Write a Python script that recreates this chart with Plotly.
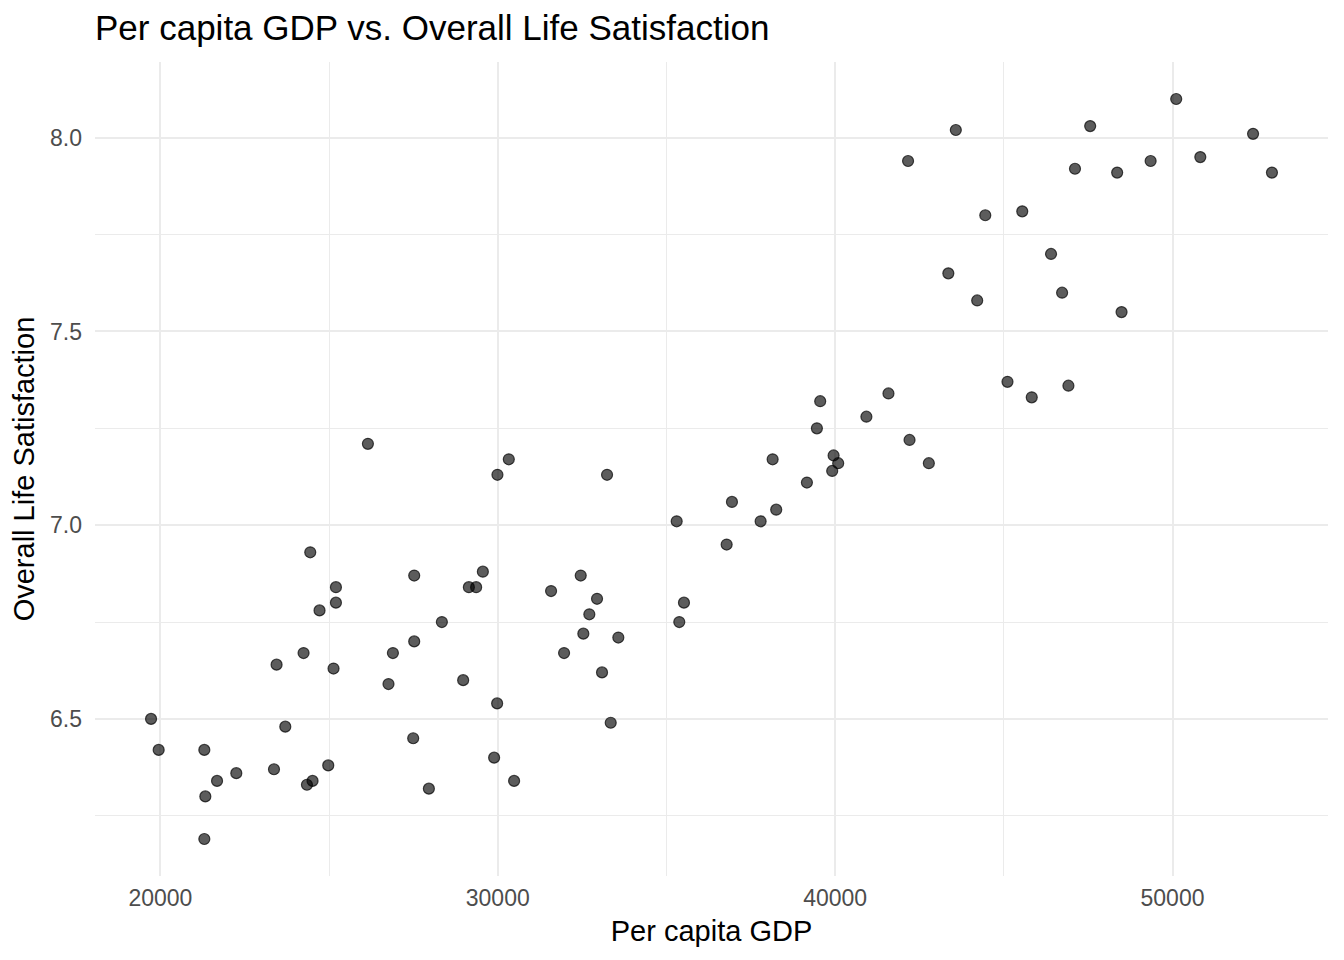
import plotly.graph_objects as go

# Per capita GDP (x) and overall life satisfaction (y)
gdp = [19724, 19950, 21303, 21333, 21680, 22251, 21303, 23368, 23445, 23703,
       24245, 24443, 24345, 24511, 24718, 24976, 25204, 25204, 25133, 26152,
       26762, 26893, 27524, 27524, 27494, 27959, 28344, 28975, 29144, 29360,
       29559, 29893, 29982, 29991, 30328, 30485, 31581, 31966, 32460, 32537,
       32715, 32943, 33091, 33240, 33349, 33574, 35304, 35381, 35520, 36785,
       36942, 37792, 38148, 38254, 39164, 39460, 39558, 39913, 39955, 40091,
       40927, 41581, 42206, 42162, 42778, 43356, 43578, 44211, 44451, 45109,
       45547, 45828, 46400, 46728, 46915, 47110, 47560, 48360, 48490, 49352,
       50110, 50824, 52388, 52948]
satisfaction = [6.50, 6.42, 6.42, 6.30, 6.34, 6.36, 6.19, 6.37, 6.64, 6.48,
                6.67, 6.93, 6.33, 6.34, 6.78, 6.38, 6.84, 6.80, 6.63, 7.21,
                6.59, 6.67, 6.87, 6.70, 6.45, 6.32, 6.75, 6.60, 6.84, 6.84,
                6.88, 6.40, 6.54, 7.13, 7.17, 6.34, 6.83, 6.67, 6.87, 6.72,
                6.77, 6.81, 6.62, 7.13, 6.49, 6.71, 7.01, 6.75, 6.80, 6.95,
                7.06, 7.01, 7.17, 7.04, 7.11, 7.25, 7.32, 7.14, 7.18, 7.16,
                7.28, 7.34, 7.22, 7.94, 7.16, 7.65, 8.02, 7.58, 7.80, 7.37,
                7.81, 7.33, 7.70, 7.60, 7.36, 7.92, 8.03, 7.91, 7.55, 7.94,
                8.10, 7.95, 8.01, 7.91]

title_text = "Per capita GDP vs. Overall Life Satisfaction"
x_title = "Per capita GDP"
y_title = "Overall Life Satisfaction"

FONT = "Liberation Sans, Arial, Helvetica, sans-serif"
GRID = "#EBEBEB"

# the page body adds an 8px margin, so the figure is sized to fit around it
W, H = 1336, 944


def expand(vals, frac=0.05):
    # ggplot-style 5% padding on the data range
    lo, hi = min(vals), max(vals)
    pad = (hi - lo) * frac
    return [lo - pad, hi + pad]


fig = go.Figure()
fig.add_trace(go.Scatter(
    x=gdp,
    y=satisfaction,
    mode="markers",
    marker=dict(size=11, color="rgba(0,0,0,0.64)",
                line=dict(width=1.2, color="rgba(0,0,0,0.7)")),
    showlegend=False,
    hoverinfo="x+y",
))

fig.update_layout(
    width=W,
    height=H,
    margin=dict(l=87, r=16, t=54, b=76),
    paper_bgcolor="white",
    plot_bgcolor="white",
    font=dict(family=FONT, color="black"),
    title=dict(text=title_text, x=87 / W, xref="container", xanchor="left",
               y=1 - 20 / H, yref="container", yanchor="middle",
               font=dict(size=35, color="black")),
)

fig.update_xaxes(
    range=expand(gdp), tick0=0, dtick=10000, tickformat="d",
    showgrid=True, gridcolor=GRID, gridwidth=2,
    minor=dict(dtick=5000, tick0=0, showgrid=True, gridcolor=GRID, gridwidth=1.2),
    zeroline=False, showline=False, ticks="", ticklabelstandoff=6,
    tickfont=dict(size=23, color="#4D4D4D"),
    title=dict(text=x_title, font=dict(size=29, color="black"), standoff=10),
    automargin=False,
)
fig.update_yaxes(
    range=expand(satisfaction), tick0=0, dtick=0.5, tickformat=".1f",
    showgrid=True, gridcolor=GRID, gridwidth=2,
    minor=dict(dtick=0.25, tick0=0, showgrid=True, gridcolor=GRID, gridwidth=1.2),
    zeroline=False, showline=False, ticks="", ticklabelstandoff=12,
    tickfont=dict(size=23, color="#4D4D4D"),
    title=dict(text=y_title, font=dict(size=29, color="black"), standoff=6),
    automargin=False,
)

fig.write_html("out.html")
